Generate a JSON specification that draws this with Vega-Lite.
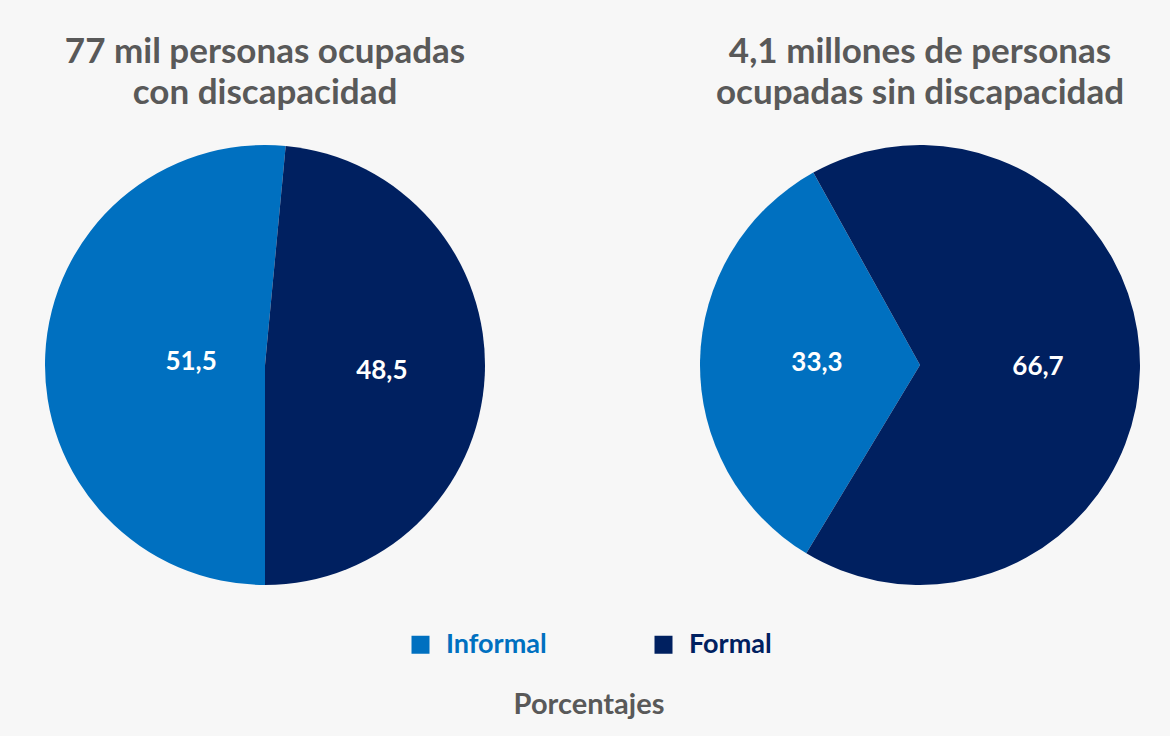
{
  "$schema": "https://vega.github.io/schema/vega-lite/v6.json",
  "background": "#f7f7f7",
  "padding": {"left": 45, "right": 30, "top": 35, "bottom": 153},
  "config": {
    "view": {"stroke": null},
    "font": "Lato",
    "title": {"font": "Lato", "fontSize": 35, "fontWeight": "bold", "color": "#595959", "lineHeight": 41, "offset": 34},
    "locale": {"number": {"decimal": ",", "thousands": ".", "grouping": [3], "currency": ["", " €"]}}
  },
  "datasets": {
    "d": [
      {"grupo": "con", "categoria": "Informal", "valor": 51.5},
      {"grupo": "con", "categoria": "Formal", "valor": 48.5},
      {"grupo": "sin", "categoria": "Informal", "valor": 33.3},
      {"grupo": "sin", "categoria": "Formal", "valor": 66.7}
    ]
  },
  "spacing": 215,
  "resolve": {"scale": {"theta": "independent", "radius": "independent"}},
  "hconcat": [
    {
      "width": 440,
      "height": 440,
      "title": {"text": ["77 mil personas ocupadas", "con discapacidad"]},
      "data": {"name": "d"},
      "transform": [{"filter": "datum.grupo === 'con'"}],
      "encoding": {
        "theta": {"field": "valor", "type": "quantitative", "stack": true, "scale": {"range": [0.0942, 6.3774]}},
        "color": {
          "field": "categoria", "type": "nominal",
          "scale": {"domain": ["Informal", "Formal"], "range": ["#0070c0", "#002060"]},
          "legend": {
            "orient": "none", "legendX": 362, "legendY": 486, "direction": "horizontal",
            "title": "Porcentajes", "titleOrient": "bottom", "titleAnchor": "middle",
            "titleFontSize": 29, "titleColor": "#595959", "titleFont": "Lato", "titleFontWeight": "bold", "titlePadding": 33,
            "labelFontSize": 27, "labelFont": "Lato", "labelFontWeight": "bold",
            "labelColor": {"expr": "datum.label === 'Informal' ? '#0070c0' : '#002060'"},
            "symbolType": "square", "symbolSize": 324, "symbolStrokeWidth": 0,
            "labelOffset": 12, "columnPadding": 103
          }
        },
        "order": {"field": "categoria", "sort": "ascending"}
      },
      "layer": [
        {"mark": {"type": "arc", "outerRadius": 220}},
        {
          "mark": {"type": "text", "fontSize": 26, "fontWeight": "bold", "font": "Lato"},
          "encoding": {
            "text": {"field": "valor", "type": "quantitative", "format": ".1f"},
            "color": {"value": "white"},
            "detail": {"field": "categoria"},
            "radius": {"field": "valor", "type": "quantitative", "scale": {"type": "linear", "zero": false, "domain": [48.5, 51.5], "range": [117, 74]}}
          }
        }
      ]
    },
    {
      "width": 440,
      "height": 440,
      "title": {"text": ["4,1 millones de personas", "ocupadas sin discapacidad"]},
      "data": {"name": "d"},
      "transform": [{"filter": "datum.grupo === 'sin'"}],
      "encoding": {
        "theta": {"field": "valor", "type": "quantitative", "stack": true, "scale": {"range": [5.777, 12.060]}},
        "color": {
          "field": "categoria", "type": "nominal",
          "scale": {"domain": ["Informal", "Formal"], "range": ["#0070c0", "#002060"]},
          "legend": {
            "orient": "none", "legendX": 362, "legendY": 486, "direction": "horizontal",
            "title": "Porcentajes", "titleOrient": "bottom", "titleAnchor": "middle",
            "titleFontSize": 29, "titleColor": "#595959", "titleFont": "Lato", "titleFontWeight": "bold", "titlePadding": 33,
            "labelFontSize": 27, "labelFont": "Lato", "labelFontWeight": "bold",
            "labelColor": {"expr": "datum.label === 'Informal' ? '#0070c0' : '#002060'"},
            "symbolType": "square", "symbolSize": 324, "symbolStrokeWidth": 0,
            "labelOffset": 12, "columnPadding": 103
          }
        },
        "order": {"field": "categoria", "sort": "ascending"}
      },
      "layer": [
        {"mark": {"type": "arc", "outerRadius": 220}},
        {
          "mark": {"type": "text", "fontSize": 26, "fontWeight": "bold", "font": "Lato"},
          "encoding": {
            "text": {"field": "valor", "type": "quantitative", "format": ".1f"},
            "color": {"value": "white"},
            "detail": {"field": "categoria"},
            "radius": {"field": "valor", "type": "quantitative", "scale": {"type": "linear", "zero": false, "domain": [33.3, 66.7], "range": [103, 118]}}
          }
        }
      ]
    }
  ]
}
